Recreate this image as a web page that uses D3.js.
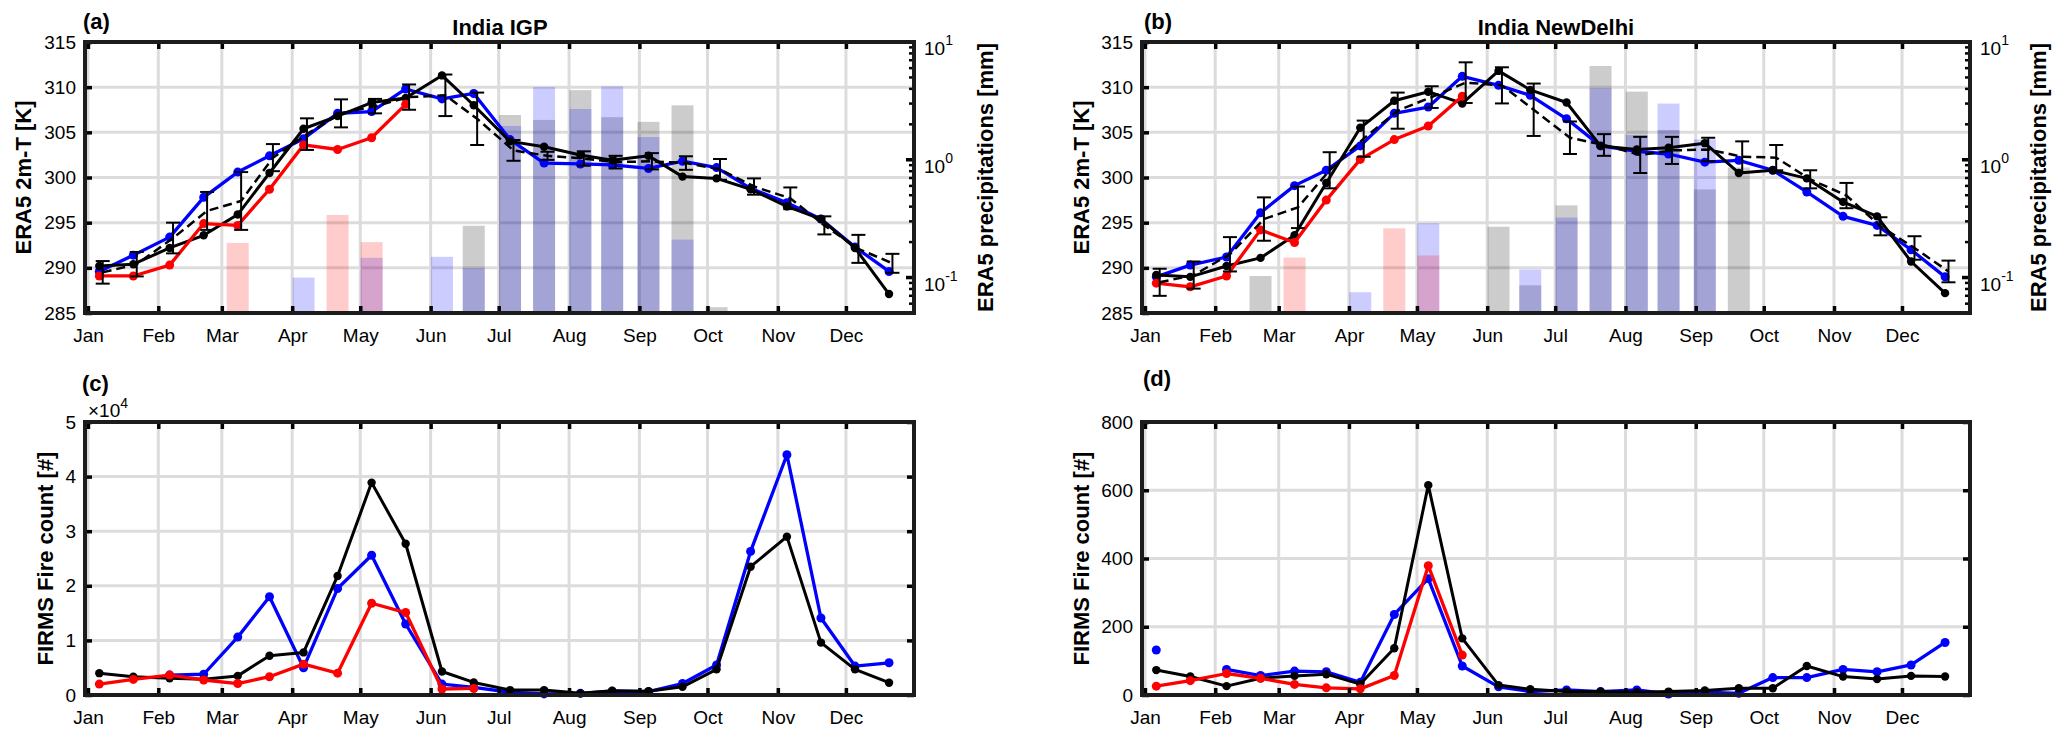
<!DOCTYPE html>
<html>
<head>
<meta charset="utf-8">
<script src="https://cdn.jsdelivr.net/npm/d3@7"></script>
<style>
  html, body { margin: 0; padding: 0; background: #ffffff; }
  svg { display: block; }
  text { font-family: "Liberation Sans", Arial, Helvetica, sans-serif; fill: #000; }
</style>
</head>
<body>
<svg id="chart" width="2067" height="744"></svg>
<script>
// ---------------- DATA ----------------
const months = ["Jan","Feb","Mar","Apr","May","Jun","Jul","Aug","Sep","Oct","Nov","Dec"];
const monthStartDays = [0,31,59,90,120,151,181,212,243,273,304,334];
// day-of-year of the semi-monthly samples
const sampleDays = [5,20,36,51,66,80,95,110,125,140,156,170,186,201,217,231,247,262,277,292,308,323,338,353];
// day-of-year of the climatology (dashed line + error bars)
const climDays = [6.5,21.5,37.5,52.5,67.5,81.5,96.5,111.5,126.5,141.5,157.5,171.5,187.5,202.5,218.5,232.5,248.5,263.5,278.5,293.5,309.5,324.5,339.5,354.5];

const tempTicks = [285,290,295,300,305,310,315];
const precipMajorTicks = [0.1, 1, 10];
const precipTickLabels = [["10","-1"],["10","0"],["10","1"]];
const fireTicksIGP = [0,10000,20000,30000,40000,50000];
const fireTickLabelsIGP = ["0","1","2","3","4","5"];
const fireTicksDelhi = [0,200,400,600,800];

// (a) India IGP – ERA5 2m temperature [K]
const igpTempBlue  = [289.6,291.4,293.4,297.8,300.6,302.4,304.3,307.1,307.3,309.8,308.7,309.3,304.2,301.6,301.5,301.4,301.0,301.8,301.1,298.8,297.2,295.4,292.3,289.6];
const igpTempBlack = [290.2,290.4,292.2,293.6,295.9,300.5,305.4,306.8,308.3,308.8,311.3,308.0,304.0,303.4,302.5,301.9,302.4,300.1,299.9,298.7,296.8,295.4,292.2,287.1];
const igpTempRed   = [289.1,289.1,290.3,294.9,294.7,298.7,303.6,303.1,304.4,308.1,null,null,null,null,null,null,null,null,null,null,null,null,null,null];
const igpTempClim  = [289.5,290.4,293.3,296.3,297.4,302.2,304.8,307.1,307.9,308.9,309.1,306.5,303.0,302.4,302.1,301.7,301.8,301.6,300.9,299.0,297.7,294.7,292.1,290.5];
const igpTempErr   = [1.25,1.35,1.7,2.1,3.2,1.5,1.75,1.55,0.8,1.4,2.3,2.9,1.15,0.45,0.8,0.7,0.9,0.75,1.15,0.9,1.2,1.0,1.55,1.05];
// (a) India IGP – ERA5 precipitation [mm]
const igpPrecipGray = [null,null,null,null,null,null,null,null,null,null,null,0.275,2.4,2.18,3.9,2.3,2.1,2.9,0.056,null,null,null,null,null];
const igpPrecipBlue = [null,null,null,null,null,null,0.1,null,0.147,null,0.15,0.12,1.94,4.15,2.7,4.2,1.56,0.21,null,null,null,null,null,null];
const igpPrecipRed  = [null,null,null,null,0.197,null,null,0.34,0.2,null,null,null,null,null,null,null,null,null,null,null,null,null,null,null];

// (b) India NewDelhi – ERA5 2m temperature [K]
const delhiTempBlue  = [289.0,290.3,291.2,296.1,299.1,300.8,303.5,307.1,307.8,311.2,310.2,309.1,306.5,303.5,302.9,302.6,301.7,301.9,300.8,298.4,295.7,294.7,292.0,289.0];
const delhiTempBlack = [289.2,289.0,290.2,291.1,293.6,299.4,305.5,308.5,309.5,308.2,311.8,309.7,308.3,303.5,303.1,303.3,303.8,300.5,300.8,299.9,297.3,295.7,290.7,287.2];
const delhiTempRed   = [288.3,287.9,289.1,294.2,292.8,297.5,302.0,304.2,305.7,309.0,null,null,null,null,null,null,null,null,null,null,null,null,null,null];
const delhiTempClim  = [288.4,289.2,291.5,295.4,296.7,300.8,304.3,307.4,308.9,310.5,310.2,307.5,304.4,303.6,302.5,303.0,303.1,302.3,302.2,299.8,298.0,294.6,292.2,289.6];
const delhiTempErr   = [1.5,1.5,1.9,2.4,2.3,2.0,2.0,2.0,1.2,2.25,2.0,2.9,1.8,1.2,2.0,1.5,1.3,1.7,1.4,1.0,1.4,1.0,1.3,1.2];
// (b) India NewDelhi – ERA5 precipitation [mm]
const delhiPrecipGray = [null,null,null,0.103,null,null,null,null,null,null,0.27,0.086,0.41,6.26,3.79,1.79,0.56,0.86,null,null,null,null,null,null];
const delhiPrecipBlue = [null,null,null,null,null,null,0.075,null,0.289,null,null,0.117,0.323,4.05,1.62,3.0,1.49,null,null,null,null,null,null,null];
const delhiPrecipRed  = [null,null,null,null,0.148,null,null,0.262,0.154,null,null,null,null,null,null,null,null,null,null,null,null,null,null,null];

// (c) India IGP – FIRMS fire count
const igpFireBlack = [4000,3350,3050,2900,3500,7200,7800,21800,38900,27700,4300,2300,900,900,300,800,700,1500,4700,23500,29000,9600,4700,2250];
const igpFireBlue  = [null,null,3650,3800,10600,18000,5000,19500,25600,13000,2000,1400,500,200,300,700,600,2100,5500,26300,44000,14100,5300,5900];
const igpFireRed   = [2000,2850,3650,2750,2100,3350,5650,4000,16800,15100,1100,1200,null,null,null,null,null,null,null,null,null,null,null,null];

// (d) India NewDelhi – FIRMS fire count
const delhiFireBlack = [73,54,26,49,56,61,32,137,615,166,29,17,10,10,8,10,13,20,20,85,54,47,56,54];
const delhiFireBlue  = [132,null,75,57,70,68,37,236,341,85,24,10,15,10,15,3,8,5,51,51,75,68,88,154];
const delhiFireRed   = [26,42,63,49,31,21,18,57,379,117,null,null,null,null,null,null,null,null,null,null,null,null,null,null];

// ---------------- DRAWING ----------------
const svg = d3.select("#chart");
const COL = { blue: "#0000ff", red: "#ff0000", black: "#000000", grid: "#dcdcdc", frame: "#1c1c1c" };
const xDomain = [-1.3, 364];

function buildPanel(o) {
  const g = svg.append("g");
  const x = d3.scaleLinear().domain(xDomain).range([o.left, o.right]);
  const y = d3.scaleLinear().domain(o.yDomain).range([o.bottom, o.top]);
  const gridLayer = g.append("g");
  gridLayer.selectAll("line.v").data(monthStartDays).join("line")
    .attr("x1", d => x(d)).attr("x2", d => x(d))
    .attr("y1", o.top).attr("y2", o.bottom)
    .attr("stroke", COL.grid).attr("stroke-width", 3);
  gridLayer.selectAll("line.h").data(o.yTicks).join("line")
    .attr("x1", o.left).attr("x2", o.right)
    .attr("y1", d => y(d)).attr("y2", d => y(d))
    .attr("stroke", COL.grid).attr("stroke-width", 3);
  const dataLayer = g.append("g");
  const axisLayer = g.append("g");
  return { g, x, y, dataLayer, axisLayer, o };
}

function styleAxis(sel) {
  sel.select(".domain").remove();
  sel.selectAll(".tick line").attr("stroke", "#000").attr("stroke-width", 3.5);
  sel.selectAll(".tick text").attr("font-size", 19).attr("fill", "#000")
     .attr("font-family", '"Liberation Sans", Arial, sans-serif');
}

function drawAxes(p, leftTickFmt, rightMirror) {
  const { x, y, o, axisLayer } = p;
  const bottom = axisLayer.append("g").attr("transform", `translate(0,${o.bottom})`)
    .call(d3.axisBottom(x).tickValues(monthStartDays).tickFormat((d, i) => months[i]).tickSize(-7).tickPadding(16));
  styleAxis(bottom);
  const top = axisLayer.append("g").attr("transform", `translate(0,${o.top})`)
    .call(d3.axisTop(x).tickValues(monthStartDays).tickFormat("").tickSize(-7));
  styleAxis(top);
  const left = axisLayer.append("g").attr("transform", `translate(${o.left},0)`)
    .call(d3.axisLeft(y).tickValues(o.yTicks).tickFormat(leftTickFmt).tickSize(-7).tickPadding(9));
  styleAxis(left);
  if (rightMirror) {
    const right = axisLayer.append("g").attr("transform", `translate(${o.right},0)`)
      .call(d3.axisRight(y).tickValues(o.yTicks).tickFormat("").tickSize(-7));
    styleAxis(right);
  }
}

function drawFrame(p) {
  const { o } = p;
  p.g.append("rect")
    .attr("x", o.left).attr("y", o.top)
    .attr("width", o.right - o.left).attr("height", o.bottom - o.top)
    .attr("fill", "none").attr("stroke", COL.frame).attr("stroke-width", 4);
}

function drawSeries(p, values, color, width, r) {
  const pts = values.map((v, i) => ({ d: sampleDays[i], v }));
  const line = d3.line().defined(d => d.v != null).x(d => p.x(d.d)).y(d => p.y(d.v));
  p.dataLayer.append("path").datum(pts)
    .attr("d", line).attr("fill", "none").attr("stroke", color)
    .attr("stroke-width", width).attr("stroke-linejoin", "round");
  p.dataLayer.append("g").selectAll("circle").data(pts.filter(d => d.v != null)).join("circle")
    .attr("cx", d => p.x(d.d)).attr("cy", d => p.y(d.v)).attr("r", r).attr("fill", color);
}

function drawClim(p, mean, err) {
  const pts = mean.map((v, i) => ({ d: climDays[i], v, e: err[i] }));
  const line = d3.line().x(d => p.x(d.d)).y(d => p.y(d.v));
  p.dataLayer.append("path").datum(pts)
    .attr("d", line).attr("fill", "none").attr("stroke", "#000")
    .attr("stroke-width", 2.5).attr("stroke-dasharray", "9,5");
  const eb = p.dataLayer.append("g").attr("stroke", "#000").attr("stroke-width", 2);
  const cap = 7;
  eb.selectAll("line.v").data(pts).join("line")
    .attr("x1", d => p.x(d.d)).attr("x2", d => p.x(d.d))
    .attr("y1", d => p.y(d.v - d.e)).attr("y2", d => p.y(d.v + d.e));
  eb.selectAll("line.t").data(pts).join("line")
    .attr("x1", d => p.x(d.d) - cap).attr("x2", d => p.x(d.d) + cap)
    .attr("y1", d => p.y(d.v + d.e)).attr("y2", d => p.y(d.v + d.e));
  eb.selectAll("line.b").data(pts).join("line")
    .attr("x1", d => p.x(d.d) - cap).attr("x2", d => p.x(d.d) + cap)
    .attr("y1", d => p.y(d.v - d.e)).attr("y2", d => p.y(d.v - d.e));
}

function drawPrecip(p, gray, blue, red, labelX) {
  const { o, x } = p;
  const yl = d3.scaleLog().domain([0.05, 10]).range([o.bottom, o.top]);
  const bw = 22;
  const layer = p.dataLayer.append("g");
  [[gray, "#000000"], [blue, "#0000ff"], [red, "#ff0000"]].forEach(([vals, c]) => {
    const pts = vals.map((v, i) => ({ d: sampleDays[i], v })).filter(d => d.v != null);
    layer.append("g").selectAll("rect").data(pts).join("rect")
      .attr("x", d => x(d.d) - bw / 2).attr("width", bw)
      .attr("y", d => yl(d.v)).attr("height", d => o.bottom - yl(d.v))
      .attr("fill", c).attr("fill-opacity", 0.2);
  });
  // right log axis ticks
  const minors = [];
  [0.01, 0.1, 1].forEach(dec => { for (let k = 2; k <= 9; k++) { const v = dec * k; if (v >= 0.05 && v <= 10) minors.push(v); } });
  const ax = p.axisLayer.append("g").attr("stroke", "#000");
  ax.selectAll("line.mj").data(precipMajorTicks).join("line")
    .attr("x1", o.right).attr("x2", o.right - 8)
    .attr("y1", d => yl(d)).attr("y2", d => yl(d)).attr("stroke-width", 3.5);
  ax.selectAll("line.mn").data(minors).join("line")
    .attr("x1", o.right).attr("x2", o.right - 5)
    .attr("y1", d => yl(d)).attr("y2", d => yl(d)).attr("stroke-width", 2.5);
  const lbl = p.axisLayer.append("g").selectAll("text").data(precipMajorTicks).join("text")
    .attr("x", o.right + 10).attr("y", d => yl(d) + 13).attr("font-size", 19);
  lbl.append("tspan").text((d, i) => precipTickLabels[i][0]);
  lbl.append("tspan").attr("dy", -10).attr("font-size", 14).text((d, i) => precipTickLabels[i][1]);
  // right label
  p.g.append("text")
    .attr("transform", `translate(${labelX},${(o.top + o.bottom) / 2}) rotate(-90)`)
    .attr("text-anchor", "middle").attr("font-size", 22).attr("font-weight", "bold")
    .text("ERA5 precipitations [mm]");
}

function yLabel(p, text, bx) {
  const { o } = p;
  p.g.append("text")
    .attr("transform", `translate(${bx},${(o.top + o.bottom) / 2}) rotate(-90)`)
    .attr("text-anchor", "middle").attr("font-size", 22).attr("font-weight", "bold")
    .text(text);
}

function panelTag(text, x, y) {
  svg.append("text").attr("x", x).attr("y", y).attr("font-size", 22).attr("font-weight", "bold").text(text);
}

const LW_C = 3.3, LW_K = 3, R_C = 4.5, R_K = 4.2;

// ---- (a) ----
const pa = buildPanel({ left: 85, right: 914, top: 42, bottom: 313, yDomain: [285, 315], yTicks: tempTicks });
drawPrecip(pa, igpPrecipGray, igpPrecipBlue, igpPrecipRed, 993);
drawSeries(pa, igpTempBlue, COL.blue, LW_C, R_C);
drawSeries(pa, igpTempBlack, COL.black, LW_K, R_K);
drawSeries(pa, igpTempRed, COL.red, LW_C, R_C);
drawClim(pa, igpTempClim, igpTempErr);
drawAxes(pa, d => d, false);
drawFrame(pa);
yLabel(pa, "ERA5 2m-T [K]", 31);
svg.append("text").attr("x", 500).attr("y", 35).attr("text-anchor", "middle")
  .attr("font-size", 22).attr("font-weight", "bold").text("India IGP");
panelTag("(a)", 83, 29);

// ---- (b) ----
const pb = buildPanel({ left: 1142, right: 1970, top: 42, bottom: 313, yDomain: [285, 315], yTicks: tempTicks });
drawPrecip(pb, delhiPrecipGray, delhiPrecipBlue, delhiPrecipRed, 2046);
drawSeries(pb, delhiTempBlue, COL.blue, LW_C, R_C);
drawSeries(pb, delhiTempBlack, COL.black, LW_K, R_K);
drawSeries(pb, delhiTempRed, COL.red, LW_C, R_C);
drawClim(pb, delhiTempClim, delhiTempErr);
drawAxes(pb, d => d, false);
drawFrame(pb);
yLabel(pb, "ERA5 2m-T [K]", 1089);
svg.append("text").attr("x", 1556).attr("y", 35).attr("text-anchor", "middle")
  .attr("font-size", 22).attr("font-weight", "bold").text("India NewDelhi");
panelTag("(b)", 1144, 29);

// ---- (c) ----
const pc = buildPanel({ left: 85, right: 914, top: 422, bottom: 695, yDomain: [0, 50000], yTicks: fireTicksIGP });
drawSeries(pc, igpFireBlue, COL.blue, LW_C, R_C);
drawSeries(pc, igpFireBlack, COL.black, LW_K, R_K);
drawSeries(pc, igpFireRed, COL.red, LW_C, R_C);
drawAxes(pc, (d, i) => fireTickLabelsIGP[i], true);
drawFrame(pc);
yLabel(pc, "FIRMS Fire count [#]", 53);
panelTag("(c)", 82, 391);
const exp = svg.append("text").attr("x", 88).attr("y", 417).attr("font-size", 19);
exp.append("tspan").text("\u00d710");
exp.append("tspan").attr("dy", -9).attr("font-size", 14).text("4");

// ---- (d) ----
const pd = buildPanel({ left: 1142, right: 1970, top: 422, bottom: 695, yDomain: [0, 800], yTicks: fireTicksDelhi });
drawSeries(pd, delhiFireBlue, COL.blue, LW_C, R_C);
drawSeries(pd, delhiFireBlack, COL.black, LW_K, R_K);
drawSeries(pd, delhiFireRed, COL.red, LW_C, R_C);
drawAxes(pd, d => d, true);
drawFrame(pd);
yLabel(pd, "FIRMS Fire count [#]", 1089);
panelTag("(d)", 1143, 386);
</script>
</body>
</html>
